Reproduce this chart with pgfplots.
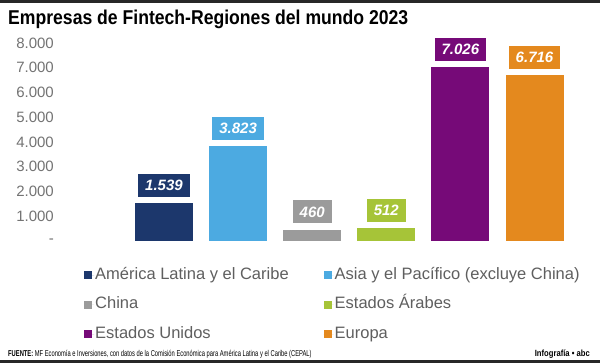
\documentclass[border=0pt]{standalone}
\usepackage{graphicx}
\usepackage{pgfplots}
\pgfplotsset{compat=1.18}
\usepackage{fontspec}
\setmainfont{Liberation Sans}
\definecolor{cNavy}{RGB}{28,55,108}
\definecolor{cBlue}{RGB}{76,170,225}
\definecolor{cGray}{RGB}{155,155,155}
\definecolor{cGreen}{RGB}{166,196,56}
\definecolor{cPurple}{RGB}{118,10,120}
\definecolor{cOrange}{RGB}{228,137,30}
\definecolor{tickgray}{RGB}{115,115,115}
\definecolor{leggray}{RGB}{95,95,95}
\definecolor{band}{RGB}{40,40,40}
\pgfplotsset{
  mybar/.style={ybar, bar width=58pt, bar shift=0pt, draw=none, fill=#1,
    legend image code/.code={\fill[#1] (0pt,-4pt) rectangle (8pt,4pt); \path (0pt,0pt) -- (10pt,0pt);},
    nodes near coords, point meta=explicit symbolic,
    every node near coord/.append style={fill=#1, text=white, anchor=south,
      yshift=6pt, minimum height=23pt, inner xsep=7pt, inner ysep=0pt,
      font=\bfseries\itshape\fontsize{15}{15}\selectfont}},
}
\begin{document}
\begin{tikzpicture}
\fill[white] (0,0) rectangle (600pt,-363pt);
\useasboundingbox (0,0) rectangle (600pt,-363pt);
\fill[band] (0,0) rectangle (600pt,-3pt);
\fill[band] (0,-360pt) rectangle (600pt,-363pt);
\node[anchor=west, inner sep=0pt] at (8pt,-19pt)
  {\scalebox{0.88}[1]{\bfseries\fontsize{20}{20}\selectfont Empresas de Fintech-Regiones del mundo 2023}};
\begin{axis}[
  at={(62pt,-241pt)}, anchor=south west,
  scale only axis, width=518pt, height=198pt,
  xmin=-1.3765, xmax=5.614, ymin=0, ymax=8000,
  clip=false,
  axis line style={draw=none},
  major tick length=0pt,
  xtick=\empty,
  ytick={0,1000,2000,3000,4000,5000,6000,7000,8000},
  yticklabels={-\hspace{6pt},1.000,2.000,3.000,4.000,5.000,6.000,7.000,8.000},
  yticklabel style={font=\fontsize{15}{15}\selectfont, text=tickgray, anchor=east, inner sep=0pt, xshift=-8pt},
  legend columns=2,
  legend cell align=left,
  legend style={draw=none, fill=none, inner sep=0pt,
    at={(0.0425,-0.127)}, anchor=north west,
    font=\fontsize{16.5}{18}\selectfont, text=leggray,
    nodes={inner sep=1pt, text height=12pt, text depth=3.5pt},
    row sep=12pt,
    /tikz/every even column/.append style={column sep=34pt}},
]
\addplot[mybar=cNavy] coordinates {(0,1539) [1.539]};
\addlegendentry{América Latina y el Caribe}
\addplot[mybar=cBlue] coordinates {(1,3823) [3.823]};
\addlegendentry{Asia y el Pacífico (excluye China)}
\addplot[mybar=cGray] coordinates {(2,460) [460]};
\addlegendentry{China}
\addplot[mybar=cGreen] coordinates {(3,512) [512]};
\addlegendentry{Estados Árabes}
\addplot[mybar=cPurple] coordinates {(4,7026) [7.026]};
\addlegendentry{Estados Unidos}
\addplot[mybar=cOrange] coordinates {(5,6716) [6.716]};
\addlegendentry{Europa}
\end{axis}
\node[anchor=west, inner sep=0pt] at (8pt,-354pt)
  {\scalebox{0.68}[1]{\fontsize{8.5}{8.5}\selectfont\textbf{FUENTE:} MF Economía e Inversiones, con datos de la Comisión Económica para América Latina y el Caribe (CEPAL)}};
\node[anchor=east, inner sep=0pt] at (590pt,-354pt)
  {\scalebox{0.85}[1]{\fontsize{9}{9}\selectfont\bfseries Infografía \textbullet\ abc}};
\end{tikzpicture}
\end{document}
